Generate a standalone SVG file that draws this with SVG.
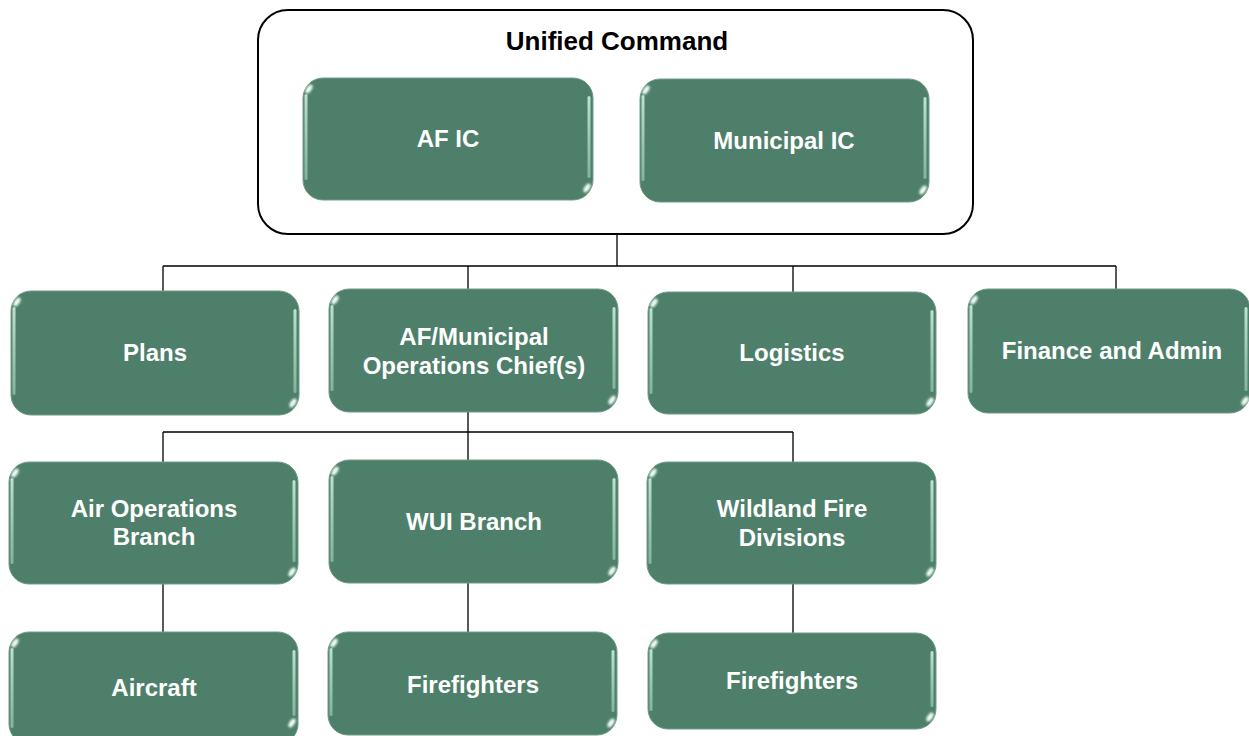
<svg xmlns="http://www.w3.org/2000/svg" width="1249" height="736" viewBox="0 0 1249 736">
<style>
.box{fill:#4E7F6A;stroke:#6F9C88;stroke-width:1}
.glint{fill:#F2FFF8;filter:url(#soft)}
.lbl{font-family:"Liberation Sans",Arial,sans-serif;font-weight:bold;font-size:24px;fill:#FFFFFF;text-anchor:middle}
.title{font-family:"Liberation Sans",Arial,sans-serif;font-weight:bold;font-size:26px;fill:#000000;text-anchor:middle}
.conn{stroke:#000000;stroke-width:1.3;fill:none}
</style>
<defs>
<filter id="soft" x="-50%" y="-50%" width="200%" height="200%"><feGaussianBlur stdDeviation="0.8"/></filter>
<linearGradient id="sg" x1="0" y1="0" x2="0" y2="1">
<stop offset="0" stop-color="#C8EEDB" stop-opacity="0.9"/>
<stop offset="1" stop-color="#A9D6BF" stop-opacity="0.6"/>
</linearGradient>
</defs>
<rect x="258" y="10" width="715" height="224" rx="30" fill="#FFFFFF" stroke="#000000" stroke-width="2"/>
<text class="title" x="617" y="50">Unified Command</text>
<g id="connectors">
<path class="conn" d="M617 234V266M163 266H1116M163 266V291M468 266V289M793 266V292M1116 266V289"/>
<path class="conn" d="M468 412V460M163 432H793M163 432V462M793 432V462"/>
<path class="conn" d="M163 584V632M468 583V632M793 584V633"/>
</g>
<g id="afic">
<rect class="box" x="303" y="78" width="290" height="122" rx="20"/>
<rect x="304.5" y="94" width="3" height="86" rx="1.5" fill="url(#sg)"/>
<rect x="587.5" y="96" width="3" height="82" rx="1.5" fill="url(#sg)"/>
<ellipse class="glint" cx="309" cy="89" rx="2.5" ry="5" transform="rotate(35 309 89)"/>
<ellipse class="glint" cx="587" cy="188" rx="2.5" ry="5" transform="rotate(35 587 188)"/>
<text class="lbl" x="448" y="147">AF IC</text>
</g>
<g id="municipal-ic">
<rect class="box" x="640" y="79" width="289" height="123" rx="20"/>
<rect x="641.5" y="95" width="3" height="86" rx="1.5" fill="url(#sg)"/>
<rect x="923.5" y="97" width="3" height="82" rx="1.5" fill="url(#sg)"/>
<ellipse class="glint" cx="646" cy="90" rx="2.5" ry="5" transform="rotate(35 646 90)"/>
<ellipse class="glint" cx="923" cy="190" rx="2.5" ry="5" transform="rotate(35 923 190)"/>
<text class="lbl" x="784" y="149">Municipal IC</text>
</g>
<g id="plans">
<rect class="box" x="11" y="291" width="288" height="124" rx="20"/>
<rect x="12.5" y="307" width="3" height="88" rx="1.5" fill="url(#sg)"/>
<rect x="293.5" y="309" width="3" height="84" rx="1.5" fill="url(#sg)"/>
<ellipse class="glint" cx="17" cy="302" rx="2.5" ry="5" transform="rotate(35 17 302)"/>
<ellipse class="glint" cx="293" cy="403" rx="2.5" ry="5" transform="rotate(35 293 403)"/>
<text class="lbl" x="155" y="361">Plans</text>
</g>
<g id="operations">
<rect class="box" x="329" y="289" width="289" height="123" rx="20"/>
<rect x="330.5" y="305" width="3" height="86" rx="1.5" fill="url(#sg)"/>
<rect x="612.5" y="307" width="3" height="82" rx="1.5" fill="url(#sg)"/>
<ellipse class="glint" cx="335" cy="300" rx="2.5" ry="5" transform="rotate(35 335 300)"/>
<ellipse class="glint" cx="612" cy="400" rx="2.5" ry="5" transform="rotate(35 612 400)"/>
<text class="lbl" x="474" y="345">AF/Municipal</text>
<text class="lbl" x="474" y="374">Operations Chief(s)</text>
</g>
<g id="logistics">
<rect class="box" x="648" y="292" width="288" height="122" rx="20"/>
<rect x="649.5" y="308" width="3" height="86" rx="1.5" fill="url(#sg)"/>
<rect x="930.5" y="310" width="3" height="82" rx="1.5" fill="url(#sg)"/>
<ellipse class="glint" cx="654" cy="303" rx="2.5" ry="5" transform="rotate(35 654 303)"/>
<ellipse class="glint" cx="930" cy="402" rx="2.5" ry="5" transform="rotate(35 930 402)"/>
<text class="lbl" x="792" y="361">Logistics</text>
</g>
<g id="finance">
<rect class="box" x="968" y="289" width="282" height="124" rx="20"/>
<rect x="969.5" y="305" width="3" height="88" rx="1.5" fill="url(#sg)"/>
<rect x="1244.5" y="307" width="3" height="84" rx="1.5" fill="url(#sg)"/>
<ellipse class="glint" cx="974" cy="300" rx="2.5" ry="5" transform="rotate(35 974 300)"/>
<ellipse class="glint" cx="1245" cy="401" rx="2.5" ry="5" transform="rotate(35 1245 401)"/>
<text class="lbl" x="1112" y="359">Finance and Admin</text>
</g>
<g id="air-operations">
<rect class="box" x="9" y="462" width="289" height="122" rx="20"/>
<rect x="10.5" y="478" width="3" height="86" rx="1.5" fill="url(#sg)"/>
<rect x="292.5" y="480" width="3" height="82" rx="1.5" fill="url(#sg)"/>
<ellipse class="glint" cx="15" cy="473" rx="2.5" ry="5" transform="rotate(35 15 473)"/>
<ellipse class="glint" cx="292" cy="572" rx="2.5" ry="5" transform="rotate(35 292 572)"/>
<text class="lbl" x="154" y="517">Air Operations</text>
<text class="lbl" x="154" y="545">Branch</text>
</g>
<g id="wui-branch">
<rect class="box" x="329" y="460" width="289" height="123" rx="20"/>
<rect x="330.5" y="476" width="3" height="86" rx="1.5" fill="url(#sg)"/>
<rect x="612.5" y="478" width="3" height="82" rx="1.5" fill="url(#sg)"/>
<ellipse class="glint" cx="335" cy="471" rx="2.5" ry="5" transform="rotate(35 335 471)"/>
<ellipse class="glint" cx="612" cy="571" rx="2.5" ry="5" transform="rotate(35 612 571)"/>
<text class="lbl" x="474" y="530">WUI Branch</text>
</g>
<g id="wildland">
<rect class="box" x="647" y="462" width="289" height="122" rx="20"/>
<rect x="648.5" y="478" width="3" height="86" rx="1.5" fill="url(#sg)"/>
<rect x="930.5" y="480" width="3" height="82" rx="1.5" fill="url(#sg)"/>
<ellipse class="glint" cx="653" cy="473" rx="2.5" ry="5" transform="rotate(35 653 473)"/>
<ellipse class="glint" cx="930" cy="572" rx="2.5" ry="5" transform="rotate(35 930 572)"/>
<text class="lbl" x="792" y="517">Wildland Fire</text>
<text class="lbl" x="792" y="546">Divisions</text>
</g>
<g id="aircraft">
<rect class="box" x="9" y="632" width="289" height="112" rx="20"/>
<rect x="10.5" y="648" width="3" height="80" rx="1.5" fill="url(#sg)"/>
<rect x="292.5" y="650" width="3" height="66" rx="1.5" fill="url(#sg)"/>
<ellipse class="glint" cx="15" cy="643" rx="2.5" ry="5" transform="rotate(35 15 643)"/>
<ellipse class="glint" cx="292" cy="723" rx="2.5" ry="5" transform="rotate(35 292 723)"/>
<text class="lbl" x="154" y="696">Aircraft</text>
</g>
<g id="firefighters-wui">
<rect class="box" x="328" y="632" width="289" height="103" rx="20"/>
<rect x="329.5" y="648" width="3" height="68" rx="1.5" fill="url(#sg)"/>
<rect x="611.5" y="650" width="3" height="62" rx="1.5" fill="url(#sg)"/>
<ellipse class="glint" cx="334" cy="643" rx="2.5" ry="5" transform="rotate(35 334 643)"/>
<ellipse class="glint" cx="611" cy="723" rx="2.5" ry="5" transform="rotate(35 611 723)"/>
<text class="lbl" x="473" y="693">Firefighters</text>
</g>
<g id="firefighters-wildland">
<rect class="box" x="648" y="633" width="288" height="96" rx="20"/>
<rect x="649.5" y="649" width="3" height="62" rx="1.5" fill="url(#sg)"/>
<rect x="930.5" y="651" width="3" height="56" rx="1.5" fill="url(#sg)"/>
<ellipse class="glint" cx="654" cy="644" rx="2.5" ry="5" transform="rotate(35 654 644)"/>
<ellipse class="glint" cx="930" cy="717" rx="2.5" ry="5" transform="rotate(35 930 717)"/>
<text class="lbl" x="792" y="689">Firefighters</text>
</g>
</svg>
